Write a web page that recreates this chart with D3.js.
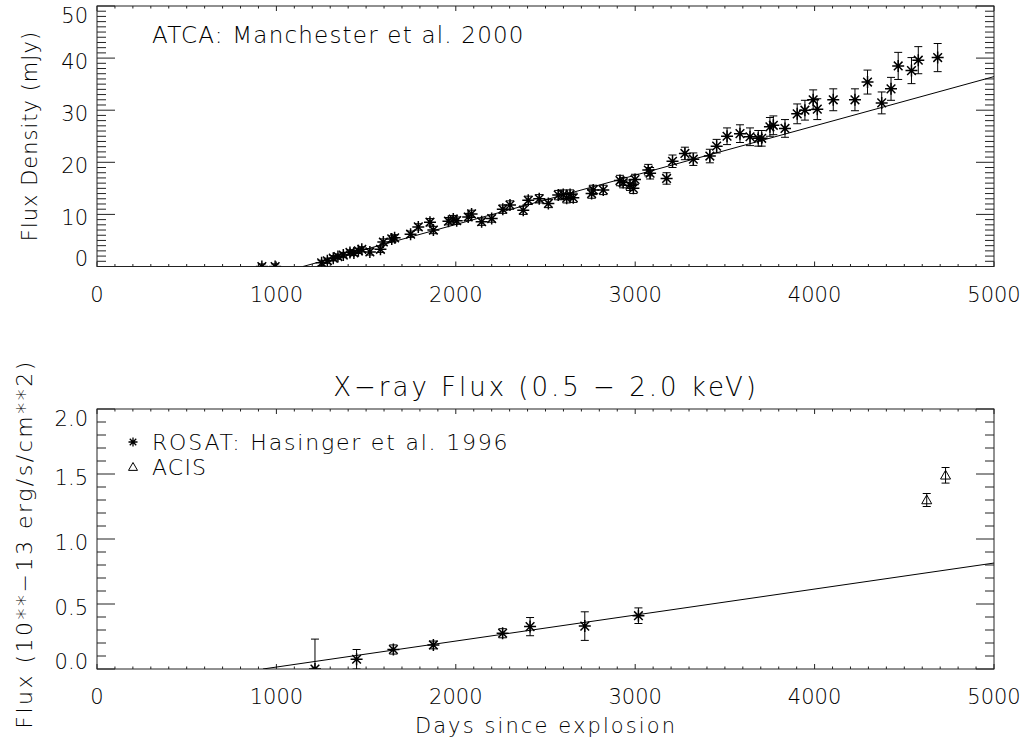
<!DOCTYPE html>
<html>
<head>
<meta charset="utf-8">
<script src="https://cdn.jsdelivr.net/npm/d3@7"></script>
<style>
  body { margin: 0; background: #fff; }
  text { font-family: "DejaVu Sans", sans-serif; font-weight: 200; fill: #000; }
</style>
</head>
<body>
<svg id="chart" width="1036" height="743"></svg>
<script>
// ATCA radio points (days, mJy, error)
const radioDays = [919, 993, 1252, 1284, 1317, 1343, 1373, 1410, 1432, 1457, 1476, 1521, 1580, 1596, 1643, 1659,
  1748, 1791, 1856, 1875, 1959, 1986, 2005, 2069, 2088, 2144, 2200, 2262, 2302, 2376, 2404, 2465, 2516,
  2571, 2599, 2618, 2637, 2655, 2757, 2766, 2822, 2915, 2933, 2971, 2990, 2999, 3073, 3083, 3175, 3208,
  3277, 3324, 3416, 3454, 3512, 3584, 3640, 3686, 3705, 3751, 3770, 3835, 3903, 3946, 3992, 4015, 4104,
  4225, 4295, 4374, 4426, 4466, 4540, 4578, 4686];
const radioFlux = [0, 0, 0.7, 1.1, 1.6, 1.9, 2.2, 2.7, 2.6, 3.0, 3.3, 2.8, 3.3, 4.7, 5.3, 5.5,
  6.2, 7.6, 8.5, 7.0, 8.7, 9.1, 8.8, 9.5, 10.1, 8.6, 9.2, 11.0, 11.8, 10.8, 12.7, 13.0, 12.1,
  13.7, 13.8, 13.1, 13.8, 13.2, 14.0, 14.7, 14.7, 16.5, 16.1, 15.6, 15.0, 16.7, 18.5, 17.9, 16.9, 20.2,
  21.7, 20.6, 21.2, 23.1, 25.0, 25.5, 24.9, 24.6, 24.6, 26.8, 27.1, 26.5, 29.3, 30.0, 32.0, 30.2, 32.0,
  32.0, 35.4, 31.4, 34.1, 38.5, 37.6, 39.6, 40.1];
const radioErr = [0.5, 0.5, 0.5, 0.5, 0.5, 0.5, 0.5, 0.5, 0.5, 0.5, 0.5, 0.6, 0.6, 0.6, 0.6, 0.6,
  0.6, 0.6, 0.7, 0.7, 0.7, 0.7, 0.7, 0.7, 0.7, 0.7, 0.7, 0.8, 0.8, 0.8, 0.8, 0.8, 0.8,
  0.9, 0.9, 0.9, 0.9, 0.9, 0.9, 0.9, 0.9, 1.0, 1.0, 1.0, 1.0, 1.0, 1.1, 1.1, 1.1, 1.2,
  1.2, 1.2, 1.3, 1.3, 1.6, 1.7, 1.7, 1.5, 1.5, 1.8, 1.8, 1.7, 1.9, 1.9, 1.9, 2.0, 2.1,
  2.1, 2.3, 2.1, 2.2, 2.6, 2.5, 2.6, 2.7];
const radioFitDays = [1148, 5000];
const radioFitFlux = [0, 36.45];

// ROSAT and ACIS x-ray points (days, 1e-13 erg/s/cm2, error)
const rosatDays = [1215, 1447, 1652, 1875, 2261, 2414, 2719, 3018];
const rosatFlux = [0.0, 0.075, 0.15, 0.185, 0.275, 0.326, 0.33, 0.41];
const rosatErr = [0.23, 0.075, 0.035, 0.03, 0.035, 0.07, 0.11, 0.06];
const acisDays = [4625, 4730];
const acisFlux = [1.30, 1.49];
const acisErr = [0.05, 0.06];
const xrayFitDays = [925, 5000];
const xrayFitFlux = [0, 0.815];

// axis ticks
const xTicks = [0, 1000, 2000, 3000, 4000, 5000];
const radioYTicks = [0, 10, 20, 30, 40, 50];
const xrayYTicks = [0.0, 0.5, 1.0, 1.5, 2.0];

const svg = d3.select("#chart");
const left = 97, right = 994;

const starPath = r => {
  const d = r * 0.72;
  return `M${-r},0L${r},0M0,${-r}L0,${r}M${-d},${-d}L${d},${d}M${-d},${d}L${d},${-d}`;
};
const triPath = r => `M0,${-r}L${r},${r * 0.75}L${-r},${r * 0.75}Z`;

function panel(cfg) {
  const x = d3.scaleLinear().domain([0, 5000]).range([left, right]);
  const y = d3.scaleLinear().domain(cfg.yDomain).range([cfg.bottom, cfg.top]);
  const g = svg.append("g");

  const clipId = cfg.id + "-clip";
  g.append("clipPath").attr("id", clipId)
    .append("rect")
    .attr("x", left).attr("y", cfg.top)
    .attr("width", right - left).attr("height", cfg.bottom - cfg.top);

  // ticks: x minors every 100 days, short (plot is wide)
  const xMinor = d3.range(0, 5001, 100);
  const tk = g.append("g").attr("stroke", "#222").attr("stroke-width", 1);
  xMinor.forEach(v => {
    const len = v % 1000 === 0 ? 5 : 2.5;
    tk.append("line").attr("x1", x(v)).attr("x2", x(v)).attr("y1", cfg.bottom).attr("y2", cfg.bottom - len);
    tk.append("line").attr("x1", x(v)).attr("x2", x(v)).attr("y1", cfg.top).attr("y2", cfg.top + len);
  });
  cfg.yMinor.forEach(v => {
    const isMajor = cfg.yTicks.some(t => Math.abs(t - v) < 1e-6);
    const len = isMajor ? 18 : 9;
    tk.append("line").attr("x1", left).attr("x2", left + len).attr("y1", y(v)).attr("y2", y(v));
    tk.append("line").attr("x1", right).attr("x2", right - len).attr("y1", y(v)).attr("y2", y(v));
  });

  g.append("rect")
    .attr("x", left).attr("y", cfg.top)
    .attr("width", right - left).attr("height", cfg.bottom - cfg.top)
    .attr("fill", "none").attr("stroke", "#222").attr("stroke-width", 1);

  // tick labels
  g.selectAll(".xl").data(xTicks).join("text")
    .attr("x", d => x(d)).attr("y", cfg.bottom + 35)
    .attr("text-anchor", "middle").attr("font-size", 21)
    .text(d => d);
  g.selectAll(".yl").data(cfg.yTicks).join("text")
    .attr("x", left - 9)
    .attr("y", d => Math.max(cfg.top + 9, Math.min(cfg.bottom - 8, y(d) + 3)) + 7.5)
    .attr("text-anchor", "end").attr("font-size", 21)
    .text(cfg.yFormat);

  // data
  const data = g.append("g").attr("clip-path", `url(#${clipId})`);
  data.append("path")
    .datum(cfg.fitDays.map((d, i) => [d, cfg.fitFlux[i]]))
    .attr("d", d3.line().x(d => x(d[0])).y(d => y(d[1])))
    .attr("fill", "none").attr("stroke", "#000").attr("stroke-width", 1);

  cfg.series.forEach(s => {
    const pts = s.days.map((d, i) => ({ d, v: s.flux[i], e: s.err[i] }));
    const eb = data.append("g").attr("stroke", "#000").attr("stroke-width", 1).attr("fill", "none");
    pts.forEach(p => {
      const cx = x(p.d), y0 = y(p.v - p.e), y1 = y(p.v + p.e);
      eb.append("path").attr("d", `M${cx},${y0}L${cx},${y1}M${cx - 4},${y0}L${cx + 4},${y0}M${cx - 4},${y1}L${cx + 4},${y1}`);
      eb.append("path").attr("transform", `translate(${cx},${y(p.v)})`)
        .attr("d", s.symbol === "star" ? starPath(6) : triPath(5))
        .attr("stroke-width", s.symbol === "star" ? 1.5 : 1);
    });
  });
  return { x, y, g };
}

const radioPanel = panel({
  id: "radio", top: 6, bottom: 266.5, yDomain: [0, 50],
  yTicks: radioYTicks, yMinor: d3.range(0, 51, 1), yFormat: d => d,
  fitDays: radioFitDays, fitFlux: radioFitFlux,
  series: [{ days: radioDays, flux: radioFlux, err: radioErr, symbol: "star" }]
});
radioPanel.g.append("text").attr("x", 152).attr("y", 43).attr("font-size", 23)
  .attr("letter-spacing", 1.2)
  .text("ATCA: Manchester et al. 2000");
radioPanel.g.append("text")
  .attr("transform", "translate(37,136) rotate(-90)")
  .attr("text-anchor", "middle").attr("font-size", 21).attr("letter-spacing", 1)
  .text("Flux Density (mJy)");

const xrayPanel = panel({
  id: "xray", top: 409, bottom: 669, yDomain: [0, 2],
  yTicks: xrayYTicks, yMinor: d3.range(0, 21, 1).map(i => i / 10), yFormat: d3.format(".1f"),
  fitDays: xrayFitDays, fitFlux: xrayFitFlux,
  series: [
    { days: rosatDays, flux: rosatFlux, err: rosatErr, symbol: "star" },
    { days: acisDays, flux: acisFlux, err: acisErr, symbol: "tri" }
  ]
});
xrayPanel.g.append("text").attr("x", 546).attr("y", 396)
  .attr("text-anchor", "middle").attr("font-size", 26).attr("letter-spacing", 3)
  .text("X\u2212ray Flux (0.5 \u2212 2.0 keV)");
xrayPanel.g.append("path").attr("transform", "translate(133,442)").attr("d", starPath(4.5))
  .attr("stroke", "#000").attr("stroke-width", 1.3).attr("fill", "none");
xrayPanel.g.append("text").attr("x", 152).attr("y", 450).attr("font-size", 22)
  .attr("letter-spacing", 1.8)
  .text("ROSAT: Hasinger et al. 1996");
xrayPanel.g.append("path").attr("transform", "translate(133,467)").attr("d", triPath(4.5))
  .attr("stroke", "#000").attr("fill", "none");
xrayPanel.g.append("text").attr("x", 152).attr("y", 475).attr("font-size", 22)
  .attr("letter-spacing", 1.2)
  .text("ACIS");
xrayPanel.g.append("text")
  .attr("transform", "translate(32,544) rotate(-90)")
  .attr("text-anchor", "middle").attr("font-size", 22).attr("letter-spacing", 2.5)
  .text("Flux (10**\u221213 erg/s/cm**2)");
xrayPanel.g.append("text").attr("x", 546).attr("y", 733)
  .attr("text-anchor", "middle").attr("font-size", 21).attr("letter-spacing", 2.1)
  .text("Days since explosion");
</script>
</body>
</html>
